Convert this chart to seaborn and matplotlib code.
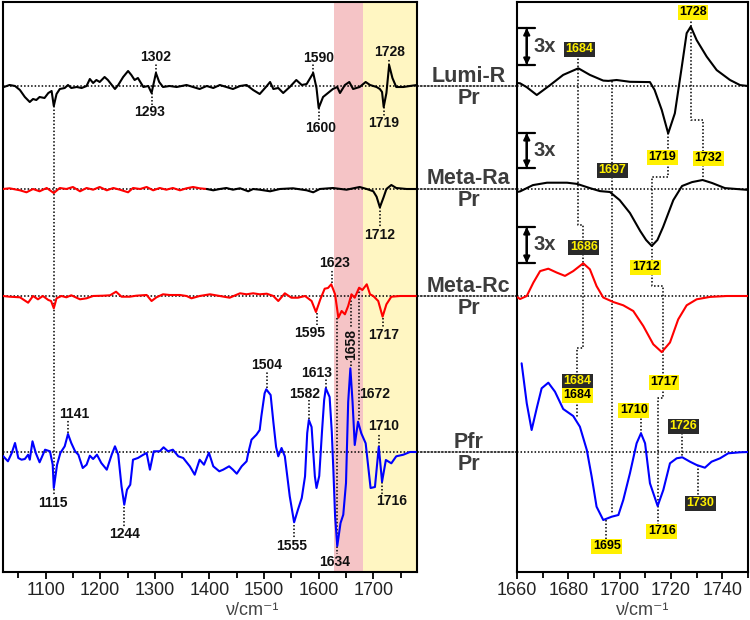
import numpy as np
import seaborn as sns
import matplotlib.pyplot as plt
from matplotlib.patches import ConnectionPatch

# ---- data (wavenumber / difference absorbance, arbitrary units) ----
names = ["Lumi-R", "Meta-Ra", "Meta-Rc", "Pfr"]
offsets = [486, 383, 276, 120]

# left panel, full range
lumi_v = [1022, 1034, 1044, 1053, 1062, 1071, 1077, 1083, 1089, 1098, 1105, 1111, 1115, 1120, 1126, 1135, 1141, 1147,
          1157, 1166, 1175, 1181, 1187, 1193, 1199, 1208, 1214, 1227, 1233, 1242, 1251, 1257, 1263, 1269, 1279, 1288,
          1294, 1302, 1308, 1315, 1327, 1340, 1358, 1370, 1382, 1395, 1407, 1419, 1431, 1443, 1456, 1468, 1480, 1492,
          1505, 1511, 1517, 1526, 1535, 1547, 1559, 1569, 1578, 1590, 1596, 1600, 1608, 1617, 1626, 1634, 1639, 1648,
          1656, 1663, 1675, 1686, 1694, 1706, 1712, 1716, 1719, 1724, 1729, 1735, 1742, 1755, 1767, 1780]
lumi_a = [-1.3, 1, 0, -4, -11, -16, -13, -14, -11, -12, -7, -5, -20, -8, -3, -2, 1, -2, -1, -2, 0, 7, 3, 6, 4, 9, 6,
          -3, 1, 9, 15, 11, 6, 8, -1, 0, -7, 13, 4, -1, 0, -1, 1, -1, -3, 0, -2, 1, -1, -3, 0, 1, -4, -8, 0, 4, -3,
          -2, -7, -1, 6, 1, 2, 13, -2, -22, -11, -7, -3, -1, -7, 1, 4, -3, -1, 4, 1, -1, -3, -6, -21, -7, 21, 8, -1,
          -1, 0, 1]

ra_red_v = [1022, 1034, 1053, 1065, 1077, 1089, 1102, 1115, 1126, 1138, 1150, 1163, 1175, 1187, 1199, 1212, 1224,
            1236, 1251, 1260, 1273, 1285, 1297, 1309, 1321, 1333, 1346, 1358, 1370, 1382, 1395]
ra_red_a = [0, 0.7, -1.3, -3.3, 0, -2.3, 1, -4, 1, 0, 2, -2.3, 1, -0.7, 2, -1.3, 1, -0.7, -3.3, 1, 0, 2, -1.3, 1,
            -0.7, 1, -1.3, 0.7, 2, 0.7, 0]
ra_blk_v = [1395, 1407, 1419, 1431, 1443, 1456, 1471, 1480, 1492, 1511, 1529, 1553, 1578, 1590, 1602, 1626, 1651,
            1675, 1688, 1700, 1706, 1712, 1719, 1724, 1733, 1742, 1761, 1780]
ra_blk_a = [0, -1.3, 0, 1, -0.7, 0.7, -2.3, 0, -0.7, -2.3, 0, 0.7, -1.3, -3.3, 0, 1, -0.7, 2, 0, -2.3, -7.7, -18.3,
            -8, 0, 4, 1, 0, 0]

rc_v = [1022, 1034, 1053, 1068, 1077, 1086, 1095, 1105, 1110, 1115, 1120, 1129, 1138, 1147, 1163, 1175, 1187, 1205,
        1218, 1229, 1239, 1254, 1266, 1285, 1294, 1303, 1315, 1327, 1346, 1358, 1367, 1382, 1401, 1419, 1437, 1456,
        1468, 1480, 1492, 1505, 1517, 1526, 1538, 1550, 1562, 1575, 1587, 1595, 1603, 1611, 1617, 1623, 1630, 1636,
        1642, 1648, 1654, 1660, 1666, 1674, 1680, 1688, 1694, 1700, 1709, 1717, 1724, 1733, 1749, 1780]
rc_a = [0, -0.7, -1.3, -6.7, 0, -3.3, 0, -4, -5, -12.3, -2.3, 0, -1.3, 0.7, -3.3, -2.3, 0, 0.3, 0.7, 4.3, -0.7, -0.7,
        0.3, 1, -5, -1.3, 1.7, 1, 1, 0, -2.3, 0, 1.7, 0, -1.7, 2.7, 1.7, 2.7, 1.7, 2.3, 0, -5, 2.7, -1.7, -1.7, 0, -5,
        -16, -3.3, 7.3, 8, 11.7, 1.7, -21.7, -15, -18.3, -10, 1.7, -1.7, 8.3, 6, 11.7, 1.7, 0, -5, -20.7, -8.3, -0.7,
        0, 0]

pfr_v = [1022, 1031, 1038, 1044, 1050, 1056, 1062, 1068, 1071, 1076, 1082, 1089, 1099, 1108, 1113, 1115, 1121, 1127,
         1135, 1141, 1147, 1154, 1160, 1168, 1175, 1181, 1187, 1194, 1202, 1212, 1221, 1227, 1233, 1239, 1244, 1249,
         1255, 1260, 1269, 1279, 1285, 1291, 1298, 1309, 1316, 1324, 1333, 1343, 1352, 1364, 1373, 1382, 1390, 1399,
         1407, 1418, 1425, 1436, 1443, 1450, 1459, 1468, 1471, 1477, 1486, 1492, 1495, 1501, 1504, 1512, 1517, 1522,
         1526, 1532, 1538, 1547, 1555, 1562, 1569, 1575, 1579, 1582, 1587, 1593, 1596, 1601, 1606, 1610, 1613, 1620,
         1624, 1627, 1630, 1634, 1640, 1645, 1650, 1654, 1658, 1662, 1666, 1672, 1678, 1686, 1695, 1703, 1710, 1716,
         1723, 1733, 1742, 1755, 1767, 1780]
pfr_a = [-4, -9.3, -1, 9, -6, -7.7, -7, -2.7, -7.7, 10.7, -1, -10.3, 2.3, 0.7, -12.7, -36, -12.7, -1, 5.7, 18, 9,
         0.7, -2.7, -16, -12.7, -3.7, -7, -2.7, -11, -17.7, -2.7, 5.7, -2.7, -34.3, -52.7, -37.7, -32.7, -7.7, -6,
         -2.7, -1, -17.7, 0.7, 0.7, 4.7, 0.7, 2.3, -4.3, -6, -14.3, -22.7, -7.7, -12.7, -0.7, -14.3, -19.3, -17.7,
         -14.3, -17.7, -21.7, -14.3, -9.3, -1, 12.3, 17.3, 22, 35.7, 58.7, 62.7, 57, 30, 5, -4.3, 4, -4.3, -44.3,
         -70.3, -57.7, -46, -24.3, 19, 32, 25, -24.3, -36, -24, 20, 52, 63.7, 55, 20, -20, -64, -94, -71, -62.7, -31,
         50, 83.7, 50, 7, 30.3, 18.7, 8.7, -36, -35, 5.3, -29.7, -8, -11.3, -4.3, -2.7, 0, 0]

# right panel, C=O region (first three traces shown 3x)
zoom_scale = 3
rl_v = [1660, 1661.2, 1663.8, 1667.7, 1672.9, 1678, 1683.9, 1688.4, 1693.6, 1695.6, 1698.8, 1704, 1711.8, 1713.6,
        1716.4, 1718.9, 1721.5, 1724.2, 1726.1, 1727.7, 1730, 1733.9, 1737.8, 1743, 1746.9, 1750]
rl_a = [1.0, 0.9, -0.4, -3.0, 0.3, 3.7, 5.9, 3.7, 1.8, 1.7, 2.0, 1.4, 1.3, -1.3, -8.0, -15.8, -9.1, 6.4, 17.6, 19.8,
        15.3, 9.8, 5.3, 2.0, 0.3, 0.0]
rra_v = [1660, 1661.2, 1666.2, 1671.7, 1679.5, 1683.4, 1688.4, 1692.3, 1696.2, 1700, 1704, 1708, 1710.3, 1712.5,
         1714.7, 1716.9, 1720.9, 1724.3, 1728.2, 1732.3, 1736, 1741, 1750]
rra_a = [-1.0, -0.8, 1.3, 2.1, 2.1, 1.7, 0.3, -0.7, -1.0, -3.7, -8.0, -14.0, -17.0, -19.0, -17.0, -12.7, -3.7, 1.0,
         2.3, 3.0, 2.0, 0.3, -0.3]
rrc_v = [1660, 1661.2, 1663.8, 1666.4, 1669, 1672.2, 1675.5, 1678.7, 1681.9, 1685.8, 1688.4, 1691, 1693.6, 1697.5,
         1701.4, 1705.3, 1709.2, 1713.1, 1716.4, 1719.6, 1722.8, 1726.1, 1730, 1735.2, 1741.7, 1750]
rrc_a = [-0.3, -1.0, 0.0, 4.5, 8.3, 9.1, 7.8, 6.7, 8.3, 10.9, 8.9, 3.3, -0.5, -2.0, -3.1, -5.0, -10.0, -16.1, -18.7,
         -15.5, -7.8, -3.1, -1.1, -0.3, 0.0, 0.0]
rpfr_v = [1661.8, 1663.8, 1665.7, 1667.8, 1669.6, 1672.2, 1674.8, 1678, 1681.9, 1684.5, 1687.2, 1689.1, 1691, 1693.6,
          1696.9, 1699.5, 1701.4, 1704, 1706.6, 1708.3, 1709.9, 1711.8, 1714.8, 1717, 1719.6, 1722.2, 1724.4, 1727.4,
          1730, 1733.2, 1735.8, 1739.1, 1742.3, 1746.9, 1750]
rpfr_a = [88.7, 48.7, 22, 45, 63.7, 69.3, 60.3, 43, 36, 25.3, 2, -24.7, -54.7, -68, -64.7, -63, -48, -21.3, 8.7, 18.7,
          8.7, -31.3, -54, -38, -11.3, -6.3, -5.3, -9.7, -13, -15.7, -9.7, -6.3, -1.3, -0.3, 0]

# peak labels, left panel: text, text x, text y, guide x, guide y0, guide y1
left_labels = [
    ("1302", 1302, 515, 1302, 499, 509), ("1293", 1291, 460, 1294, 479, 467),
    ("1590", 1600, 514, 1590, 499, 508), ("1600", 1604, 444, 1601, 464, 452),
    ("1728", 1730, 520, 1729, 507, 513), ("1719", 1719, 449, 1720, 465, 456),
    ("1712", 1712, 337, 1713, 365, 345),
    ("1623", 1629, 309, 1623.5, 289, 302), ("1595", 1583, 239, 1596, 259, 247),
    ("1717", 1719, 237, 1718, 254, 244),
    ("1141", 1153, 158, 1141, 139, 152), ("1244", 1245, 38, 1244, 65, 44),
    ("1504", 1504, 207, 1505, 184, 201), ("1582", 1575, 178, 1582.5, 153, 172),
    ("1613", 1596, 199, 1614, 184, 194), ("1555", 1550, 26, 1554.4, 47, 34),
    ("1710", 1719, 146, 1710, 125, 139), ("1716", 1733, 71, 1716, 90, 77),
    ("1115", 1114, 69, 1115, 466, 76), ("1634", 1630, 10, 1634, 254, 18),
    ("1672", 1703, 178, 1673.5, 284, 152),
]
rot_label = ("1658", 1659, 227)
rot_guides = [(1658.3, 275, 244), (1658.3, 211, 205)]

# right panel boxed labels: text, x, y, style (y = yellow box, k = dark box)
right_labels = [
    ("1728", 1728.6, 560, "y"), ("1684", 1684.4, 523, "k"), ("1719", 1716.6, 415, "y"),
    ("1732", 1734.5, 414, "y"), ("1697", 1697.2, 402, "k"), ("1686", 1686, 325, "k"),
    ("1712", 1710.2, 305, "y"), ("1684", 1683.6, 191, "k"), ("1684", 1683.6, 177, "y"),
    ("1717", 1717.3, 190, "y"), ("1710", 1705.5, 162, "y"), ("1726", 1724.8, 146, "k"),
    ("1730", 1731.4, 69, "k"), ("1716", 1716.4, 41, "y"), ("1695", 1695, 26, "y"),
]
right_guides = [
    [(1683.9, 517), (1683.9, 347), (1685.8, 347), (1685.8, 331)],
    [(1685.8, 318), (1685.8, 224), (1683.2, 224), (1683.2, 197)],
    [(1683.2, 171), (1683.2, 155)],
    [(1697.1, 491), (1697.1, 409)], [(1697.1, 395), (1697.1, 59)],
    [(1727.7, 554), (1727.7, 452), (1732.3, 452), (1732.3, 420)], [(1732.3, 407), (1732.3, 394)],
    [(1718.9, 439), (1718.9, 422)],
    [(1718.9, 409), (1718.9, 395), (1712.5, 395), (1712.5, 311)],
    [(1712.5, 298), (1712.5, 286), (1716.8, 286), (1716.8, 196)],
    [(1716.8, 184), (1716.8, 174), (1714.8, 174), (1714.8, 48)],
    [(1708.3, 157), (1708.3, 139)], [(1724.4, 139), (1724.4, 115)],
    [(1730.4, 107), (1730.4, 75)], [(1694.7, 52), (1694.7, 33)],
]
# 3x scale bars: x, y bottom, y top
scale_bars = [(1663.8, 507, 544), (1663.8, 404, 439), (1663.8, 309, 345)]

# ---- style ----
sns.set_theme(style="white")
plt.rcParams["font.family"] = ["Liberation Sans", "DejaVu Sans"]
DOT = (0, (1, 1.3))
RED, BLUE = "#ff0000", "#0000ff"
GREY = "#3c3c3c"

fig = plt.figure(figsize=(7.5, 6.2), dpi=100)
axL = fig.add_axes([3 / 750, 48 / 620, 414 / 750, 570 / 620])
axR = fig.add_axes([517 / 750, 48 / 620, 231 / 750, 570 / 620])

axL.axvspan(1628, 1681, color="#f5c4c6", lw=0, zorder=0)
axL.axvspan(1681, 1790, color="#fff6c2", lw=0, zorder=0)


def trace(ax, v, a, off, color, scale=1):
    sns.lineplot(x=np.asarray(v, float), y=off + scale * np.asarray(a, float), ax=ax, color=color,
                 lw=1.5, estimator=None, sort=False, zorder=3)


trace(axL, lumi_v, lumi_a, offsets[0], "black")
trace(axL, ra_red_v, ra_red_a, offsets[1], RED)
trace(axL, ra_blk_v, ra_blk_a, offsets[1], "black")
trace(axL, rc_v, rc_a, offsets[2], RED)
trace(axL, pfr_v, pfr_a, offsets[3], BLUE)

trace(axR, rl_v, rl_a, offsets[0], "black", zoom_scale)
trace(axR, rra_v, rra_a, offsets[1], "black", zoom_scale)
trace(axR, rrc_v, rrc_a, offsets[2], RED, zoom_scale)
trace(axR, rpfr_v, rpfr_a, offsets[3], BLUE)

for off in offsets:
    axL.axhline(off, ls=DOT, color="black", lw=1.1, zorder=2)
    axR.axhline(off, ls=DOT, color="black", lw=1.1, zorder=2)
    con = ConnectionPatch(xyA=(1, off), coordsA=axL.get_yaxis_transform(),
                          xyB=(0, off), coordsB=axR.get_yaxis_transform(),
                          ls=DOT, color="black", lw=1.1)
    fig.add_artist(con)

for name, off in zip(names, offsets):
    axL.text(1.125, off + 10, name, transform=axL.get_yaxis_transform(), ha="center", va="center",
             fontsize=15.5, fontweight="bold", color=GREY, clip_on=False)
    axL.text(1.125, off - 12, "Pr", transform=axL.get_yaxis_transform(), ha="center", va="center",
             fontsize=15.5, fontweight="bold", color=GREY, clip_on=False)

for txt, tx, ty, gx, g0, g1 in left_labels:
    axL.plot([gx, gx], [g0, g1], ls=DOT, color="black", lw=1.1, zorder=2)
    axL.text(tx, ty, txt, ha="center", va="center", fontsize=10, fontweight="bold", color="#111111", zorder=4)
axL.text(rot_label[1], rot_label[2], rot_label[0], rotation=90, ha="center", va="center",
         fontsize=10, fontweight="bold", color="#111111", zorder=4)
for gx, g0, g1 in rot_guides:
    axL.plot([gx, gx], [g0, g1], ls=DOT, color="black", lw=1.1, zorder=2)

for path in right_guides:
    xs, ys = zip(*path)
    axR.plot(xs, ys, ls=DOT, color="black", lw=1.1, zorder=2)
for txt, tx, ty, st in right_labels:
    fc, tc = ("#fff000", "black") if st == "y" else ("#2a2a2a", "#fff000")
    axR.text(tx, ty, txt, ha="center", va="center", fontsize=9, fontweight="bold", color=tc, zorder=5,
             bbox=dict(boxstyle="square,pad=0.12", fc=fc, ec="none"))

for bx, b0, b1 in scale_bars:
    axR.annotate("", xy=(bx, b1), xytext=(bx, b0),
                 arrowprops=dict(arrowstyle="<|-|>", color="black", lw=1.6, mutation_scale=9,
                                 shrinkA=0, shrinkB=0))
    axR.annotate("", xy=(bx, b1), xytext=(bx, b0),
                 arrowprops=dict(arrowstyle="|-|,widthA=0.5,widthB=0.5", color="black", lw=1.6,
                                 shrinkA=0, shrinkB=0))
    axR.text(bx + 7, (b0 + b1) / 2, "3x", ha="center", va="center", fontsize=14.5,
             fontweight="bold", color=GREY)

axL.set_xlim(1022, 1780)
axR.set_xlim(1660, 1750)
for ax in (axL, axR):
    ax.set_ylim(0, 570)
    ax.set_yticks([])
    ax.set_ylabel("")
    for s in ax.spines.values():
        s.set_color("black")
        s.set_linewidth(1.5)
    ax.tick_params(axis="x", which="both", direction="out", bottom=True, width=1.3,
                   colors="black", labelcolor="#222222", labelsize=13, pad=2)
    ax.tick_params(axis="x", which="major", length=5)
    ax.tick_params(axis="x", which="minor", length=4)

axL.set_xticks(range(1100, 1701, 100))
axL.set_xticks(range(1050, 1751, 50), minor=True)
axR.set_xticks(range(1660, 1741, 20))
axR.set_xticks(range(1670, 1751, 10), minor=True)

axL.set_xlabel("ν/cm⁻¹", fontsize=13, color="#444444")
axR.set_xlabel("ν/cm⁻¹", fontsize=13, color="#444444")
axL.xaxis.set_label_coords(250 / 414, -0.052)
axR.xaxis.set_label_coords(0.545, -0.052)

fig.savefig("out.png", dpi=100)
